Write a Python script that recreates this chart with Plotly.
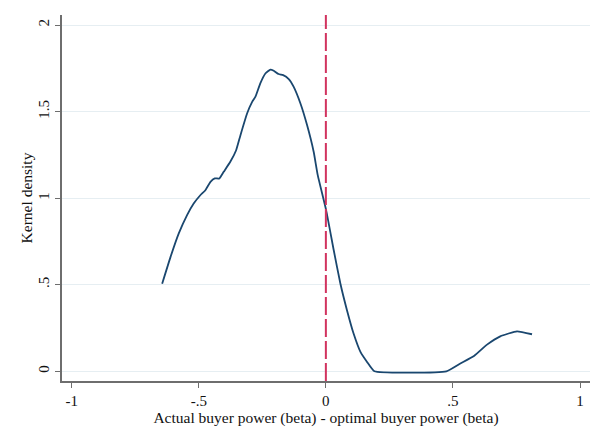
import plotly.graph_objects as go

# Kernel density estimate of the gap between actual and optimal buyer power
gap_x = [-0.644, -0.611, -0.579, -0.546, -0.520, -0.494, -0.474, -0.454, -0.437,
         -0.419, -0.402, -0.376, -0.353, -0.336, -0.310, -0.290, -0.277, -0.258,
         -0.238, -0.218, -0.205, -0.186, -0.168, -0.146, -0.127, -0.100, -0.074,
         -0.048, -0.032, 0.001, 0.031, 0.057, 0.083, 0.109, 0.136, 0.162, 0.191,
         0.474, 0.529, 0.584, 0.634, 0.686, 0.752, 0.811]
density = [0.506, 0.661, 0.795, 0.902, 0.969, 1.017, 1.046, 1.094, 1.114,
           1.114, 1.152, 1.210, 1.277, 1.364, 1.489, 1.556, 1.586, 1.663,
           1.720, 1.743, 1.736, 1.717, 1.711, 1.688, 1.644, 1.547, 1.422,
           1.268, 1.133, 0.931, 0.699, 0.507, 0.353, 0.218, 0.112, 0.054, 0.0,
           0.0, 0.045, 0.090, 0.154, 0.202, 0.231, 0.214]

# Reference line: actual equals optimal
ref_x = 0

x_ticks = [-1, -0.5, 0, 0.5, 1]
x_tick_labels = ["-1", "-.5", "0", ".5", "1"]
y_ticks = [0, 0.5, 1, 1.5, 2]
y_tick_labels = ["0", ".5", "1", "1.5", "2"]

FONT = "Liberation Serif, Times New Roman, serif"
AXIS_GREY = "#6e6e6e"
GRID = "#e6eef2"
TEXT = "#111111"

fig = go.Figure()
fig.add_trace(go.Scatter(
    x=gap_x, y=density, mode="lines", line_shape="spline",
    line=dict(color="#1a476f", width=1.8, smoothing=0.4),
    hoverinfo="skip", showlegend=False,
))

fig.add_shape(
    type="line", xref="x", yref="paper",
    x0=ref_x, x1=ref_x, y0=0, y1=1,
    line=dict(color="#d1335f", width=2, dash="18px,4px"),
)

fig.update_layout(
    width=606, height=440,
    margin=dict(l=62, r=16, t=15, b=59),
    paper_bgcolor="white", plot_bgcolor="white",
    font=dict(family=FONT, size=15, color=TEXT),
    showlegend=False,
)

fig.update_xaxes(
    range=[-1.038, 1.039],
    tickvals=x_ticks, ticktext=x_tick_labels,
    showgrid=False, zeroline=False,
    showline=True, linecolor=AXIS_GREY, linewidth=1.5,
    ticks="outside", ticklen=5, tickwidth=1.2, tickcolor=AXIS_GREY,
    tickfont=dict(family=FONT, size=15, color=TEXT),
    title=dict(text="Actual buyer power (beta) - optimal buyer power (beta)",
               font=dict(family=FONT, size=15.5, color=TEXT), standoff=0),
)

fig.update_yaxes(
    range=[-0.056, 2.058],
    tickvals=y_ticks, ticktext=y_tick_labels, tickangle=-90,
    showgrid=True, gridcolor=GRID, gridwidth=1.2, zeroline=False,
    showline=True, linecolor=AXIS_GREY, linewidth=1.5,
    ticks="outside", ticklen=5, tickwidth=1.2, tickcolor=AXIS_GREY,
    tickfont=dict(family=FONT, size=15, color=TEXT),
    title=dict(text="Kernel density",
               font=dict(family=FONT, size=15.5, color=TEXT), standoff=0),
)

fig.write_html("out.html")
